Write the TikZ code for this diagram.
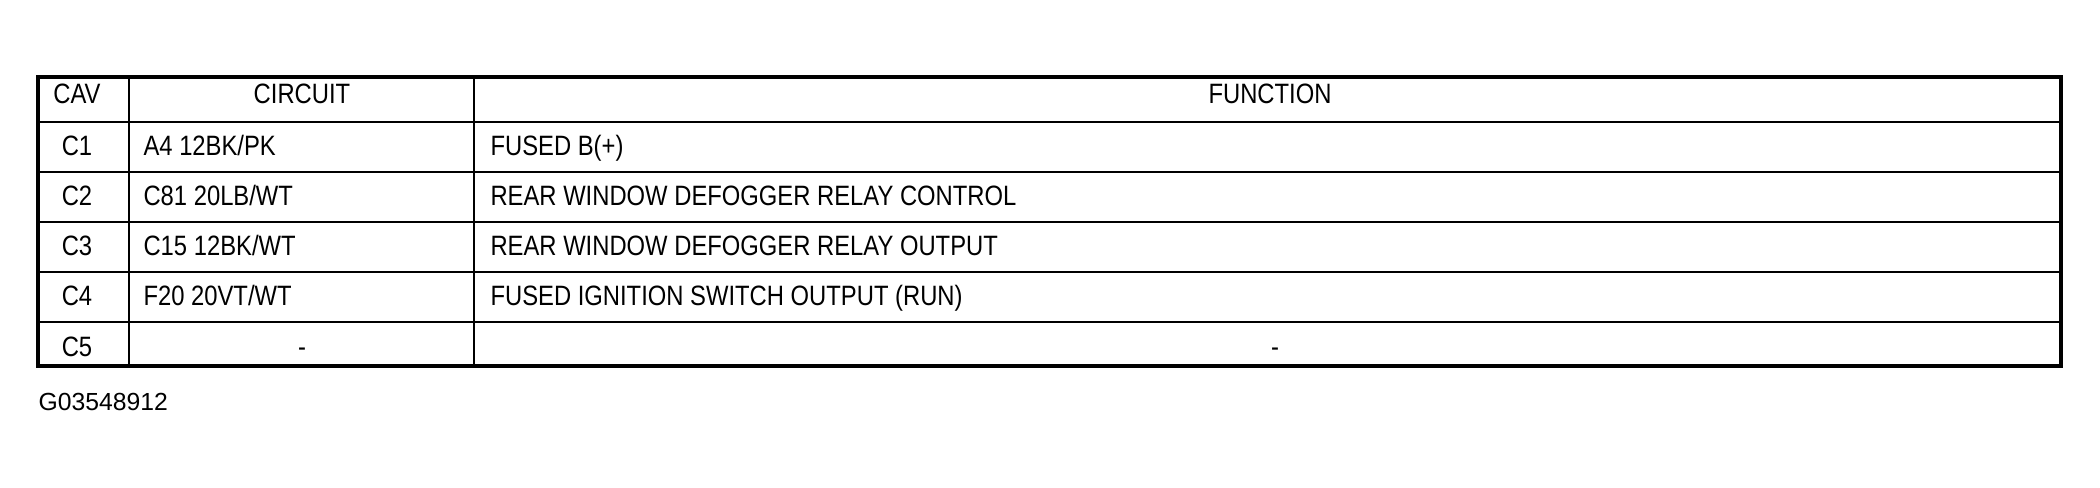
\documentclass[tikz,border=0pt]{standalone}
\usepackage{fontspec}
\setmainfont{Liberation Sans}
\newfontfamily\cellfont[FakeStretch=0.85]{Liberation Sans}
\begin{document}
\begin{tikzpicture}[x=0.36pt,y=-0.36pt,
  cell/.style={font=\cellfont\fontsize{10.08}{12}\selectfont, anchor=base, inner sep=0pt},
  lcell/.style={cell, anchor=base west},
  foot/.style={font=\fontsize{8.9}{11}\selectfont, anchor=base west, inner sep=0pt},
  outerline/.style={line width=1.1pt},
  innerline/.style={line width=0.7pt}]
\useasboundingbox (0,0) rectangle (2100,487);
% grid
\foreach \y in {122,172,222,272,322} \draw[innerline] (38,\y) -- (2061,\y);
\draw[innerline] (129,77) -- (129,366);
\draw[innerline] (474,77) -- (474,366);
\draw[outerline] (38,77) rectangle (2061,366);
% header
\node[cell] (hcav) at (77,103) {CAV};
\node[cell] (hcir) at (302,103) {CIRCUIT};
\node[cell] (hfun) at (1270,103) {FUNCTION};
% rows
\node[cell] (c1) at (77,155) {C1};
\node[cell] (c2) at (77,205) {C2};
\node[cell] (c3) at (77,255) {C3};
\node[cell] (c4) at (77,305) {C4};
\node[cell] (c5) at (77,356) {C5};
\node[lcell] (r1) at (143,155) {A4 12BK/PK};
\node[lcell] (r2) at (143,205) {C81 20LB/WT};
\node[lcell] (r3) at (143,255) {C15 12BK/WT};
\node[lcell] (r4) at (143,305) {F20 20VT/WT};
\node[cell] (r5) at (302,356) {-};
\node[lcell] (f1) at (490,155) {FUSED B(+)};
\node[lcell] (f2) at (490,205) {REAR WINDOW DEFOGGER RELAY CONTROL};
\node[lcell] (f3) at (490,255) {REAR WINDOW DEFOGGER RELAY OUTPUT};
\node[lcell] (f4) at (490,305) {FUSED IGNITION SWITCH OUTPUT (RUN)};
\node[cell] (f5) at (1275,356) {-};
% footer
\node[foot] (code) at (38,410) {G03548912};
\end{tikzpicture}
\end{document}
